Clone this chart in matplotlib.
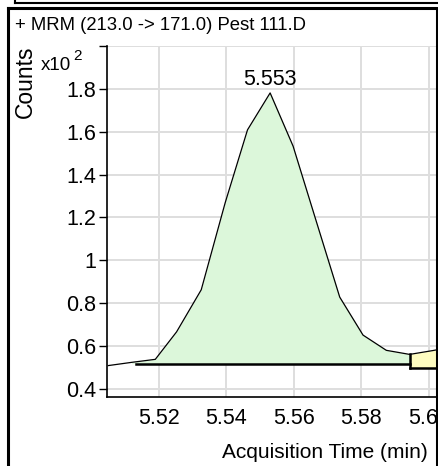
import matplotlib
matplotlib.use("Agg")
import matplotlib.pyplot as plt
from matplotlib.lines import Line2D
import numpy as np

plt.rcParams['font.family'] = ['Liberation Sans', 'DejaVu Sans']

# chromatogram trace
times = [5.5051, 5.5120, 5.5190, 5.5253, 5.5326, 5.5397, 5.5463, 5.5530,
         5.5598, 5.5667, 5.5736, 5.5805, 5.5874, 5.5943, 5.6012, 5.6080]
counts = [0.510, 0.525, 0.539, 0.667, 0.863, 1.269, 1.608, 1.780,
          1.532, 1.180, 0.829, 0.652, 0.581, 0.562, 0.580, 0.600]

# integrated peak and next peak
peak_start, peak_end, peak_base = 5.5134, 5.5943, 0.519
next_start, next_base = 5.5943, 0.497
peak_rt = 5.553
peak_height = 1.780

yticks = [0.4, 0.6, 0.8, 1.0, 1.2, 1.4, 1.6, 1.8, 2.0]
ytick_labels = ["0.4", "0.6", "0.8", "1", "1.2", "1.4", "1.6", "1.8", ""]
xticks = [5.52, 5.54, 5.56, 5.58, 5.60]
xtick_labels = ["5.52", "5.54", "5.56", "5.58", "5.60"]

W, H = 438, 466
fig = plt.figure(figsize=(W / 100, H / 100), dpi=100)
ax = fig.add_axes([107 / W, 1 - 396.7 / H, 1 - 107 / W, (396.7 - 45.7) / H])

t = np.array(times)
c = np.array(counts)

# green integrated area
ax.fill_between(t, c, peak_base, where=(t >= 5.512) & (t <= peak_end),
                color='#dcf7da', linewidth=0, zorder=2)
# yellow next peak
ax.fill_between(t, c, next_base, where=(t >= next_start),
                color='#fefcc0', linewidth=0, zorder=2)
ax.plot(t, c, color='black', linewidth=0.9, zorder=4)

ax.plot([peak_start, peak_end], [peak_base, peak_base], color='black', linewidth=1.8, zorder=5)
ax.plot([next_start, next_start], [next_base, counts[times.index(next_start)]],
        color='black', linewidth=1.8, zorder=5)
ax.plot([next_start, 5.62], [next_base, next_base], color='black', linewidth=1.8, zorder=5)

ax.annotate("5.553", xy=(peak_rt, peak_height), xytext=(0, 2), textcoords='offset points',
            ha='center', va='bottom', fontsize=15.5)

ax.set_xlim(5.5047, 5.6027)
ax.set_ylim(0.365, 2.0)
ax.set_xticks(xticks)
ax.set_xticklabels(xtick_labels)
ax.set_yticks(yticks)
ax.set_yticklabels(ytick_labels)
ax.grid(True, color='#dedede', linewidth=1.4, zorder=0)
ax.set_axisbelow(True)
for s in ['top', 'right']:
    ax.spines[s].set_visible(False)
ax.spines['left'].set_linewidth(1.2)
ax.spines['bottom'].set_linewidth(1.2)
ax.tick_params(axis='y', direction='out', length=6, width=1, pad=2, labelsize=15.5)
ax.tick_params(axis='x', length=0, pad=8, labelsize=15.5)

fig.text(15 / W, 1 - 26 / H, "+ MRM (213.0 -> 171.0) Pest 111.D", ha='left', va='center', fontsize=13.3)
fig.text(25 / W, 1 - 82 / H, "Counts", rotation=90, ha='center', va='center', fontsize=16.5)
fig.text(41 / W, 1 - 66 / H, "x10", ha='left', va='center', fontsize=13.5)
fig.text(77 / W, 1 - 56 / H, "2", ha='center', va='center', fontsize=11)
fig.text(325 / W, 1 - 452 / H, "Acquisition Time (min)", ha='center', va='center', fontsize=15)

# panel frames
fig.add_artist(Line2D([15 / W, 1], [1 - 3 / H, 1 - 3 / H], color='black', linewidth=1.5))
fig.add_artist(Line2D([15 / W, 15 / W], [1, 1 - 3 / H], color='black', linewidth=1.5))
fig.add_artist(Line2D([7.5 / W, 437 / W, 437 / W], [1 - 8 / H, 1 - 8 / H, 0],
                      color='black', linewidth=2.2))
fig.add_artist(Line2D([7.5 / W, 7.5 / W], [0, 1 - 8 / H], color='black', linewidth=2.2))

fig.savefig("out.png", dpi=100)
